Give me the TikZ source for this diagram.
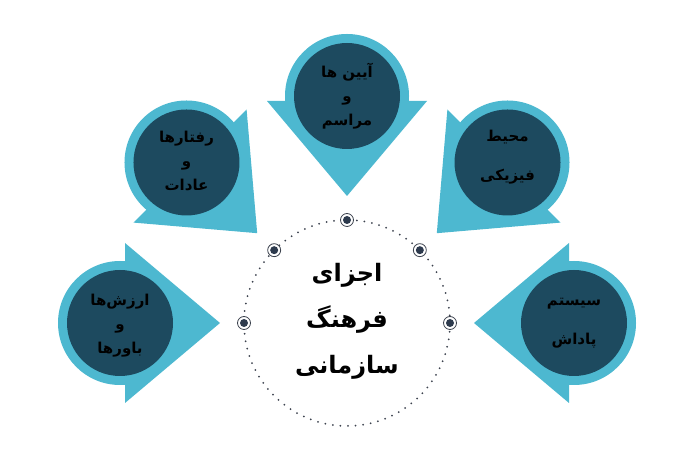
\documentclass[tikz,border=0pt]{standalone}
\usepackage{fontspec}
\usetikzlibrary{calc}
\newfontfamily\arabicfont[Script=Arabic]{DejaVu Sans}
\TeXXeTstate=1
\definecolor{lightb}{RGB}{77,184,208}
\definecolor{darkb}{RGB}{29,74,95}
\definecolor{dotc}{RGB}{45,58,77}
\definecolor{ringc}{RGB}{60,66,78}
\begin{document}
\begin{tikzpicture}[x=1pt,y=1pt,
  lbl/.style={align=center,text=black,font=\arabicfont\bfseries\fontsize{15}{24}\selectfont},
  lblwide/.style={align=center,text=black,font=\arabicfont\bfseries\fontsize{15}{39}\selectfont},
  title/.style={align=center,text=black,font=\arabicfont\bfseries\fontsize{24}{46}\selectfont},
  marker/.style={circle,draw=ringc,line width=0.8pt,fill=white,minimum size=13pt,inner sep=0pt},
  markdot/.style={circle,fill=dotc,minimum size=8pt,inner sep=0pt}]
\useasboundingbox (0,0) rectangle (698,454);
\coordinate (hub) at (347,131);
% dotted circle
\draw[ringc,line width=2pt,line cap=round,dash pattern=on 0pt off 7.6pt] (hub) circle (103);
% shapes
\foreach \a/\n in {180/L,135/UL,90/T,45/UR,0/R} {
  \coordinate (c\n) at ($(hub)+(\a:227)$);
  \begin{scope}[shift={(c\n)},rotate=\a+180]
    \fill[lightb] (0,0) circle (62);
    \fill[lightb] (5,80) -- (100,0) -- (5,-80) -- cycle;
    \fill[darkb] (0,0) circle (53);
  \end{scope}
  \node[marker] (m\n) at ($(hub)+(\a:103)$) {};
  \node[markdot] (d\n) at (m\n) {};
}
% labels
\node[lbl] (tL) at ($(cL)+(0,-3)$) {\beginR ارزش‌ها\endR\\\beginR و\endR\\\beginR باورها\endR};
\node[lbl] (tUL) at ($(cUL)+(0,1)$) {\beginR رفتارها\endR\\\beginR و\endR\\\beginR عادات\endR};
\node[lbl] (tT) at ($(cT)+(0,0)$) {\beginR آیین ها\endR\\\beginR و\endR\\\beginR مراسم\endR};
\node[lblwide] (tUR) at ($(cUR)+(0,5)$) {\beginR محیط\endR\\\beginR فیزیکی\endR};
\node[lblwide] (tR) at ($(cR)+(0,0)$) {\beginR سیستم\endR\\\beginR پاداش\endR};
\node[title] (center) at ($(hub)+(0,2)$) {\beginR اجزای\endR\\\beginR فرهنگ\endR\\\beginR سازمانی\endR};
\end{tikzpicture}
\end{document}
